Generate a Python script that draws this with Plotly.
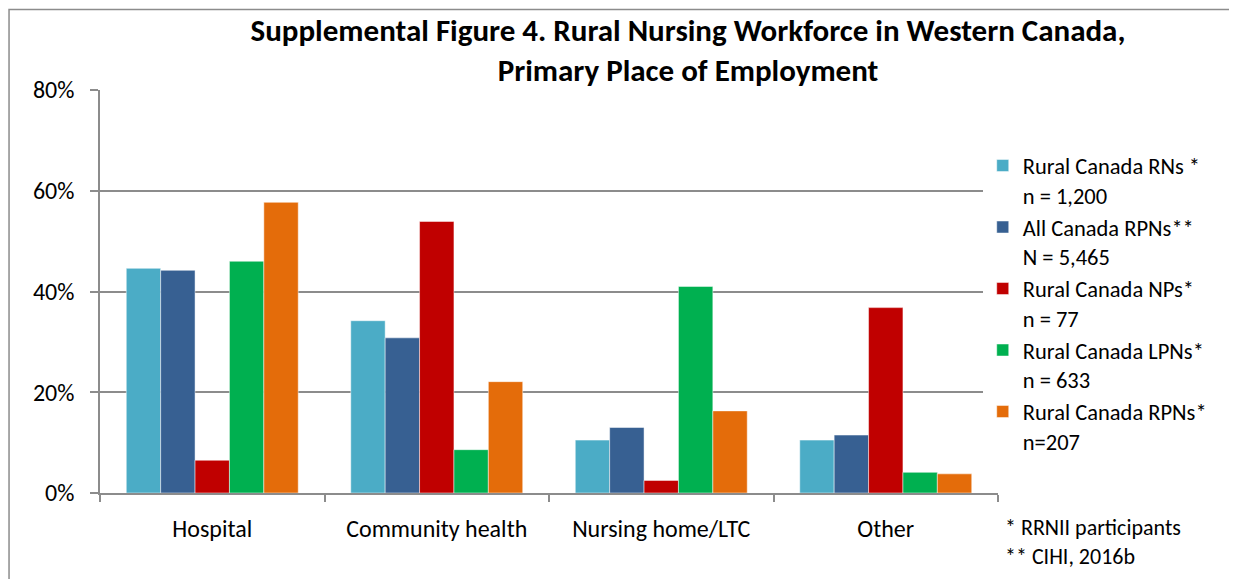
import plotly.graph_objects as go

categories = ["Hospital", "Community health", "Nursing home/LTC", "Other"]

series_names = [
    "Rural Canada RNs *<br>n = 1,200",
    "All Canada RPNs**<br>N = 5,465",
    "Rural Canada NPs*<br>n = 77",
    "Rural Canada LPNs*<br>n = 633",
    "Rural Canada RPNs*<br>n=207",
]
rural_rns = [44.6, 34.2, 10.5, 10.5]
all_rpns = [44.2, 30.8, 13.0, 11.5]
rural_nps = [6.5, 53.9, 2.5, 36.8]
rural_lpns = [46.0, 8.6, 41.0, 4.1]
rural_rpns = [57.7, 22.1, 16.3, 3.8]

y_ticks = [0, 20, 40, 60, 80]
y_labels = ["0%", "20%", "40%", "60%", "80%"]

colors = ["#4BACC6", "#376092", "#C00000", "#00B050", "#E46C0A"]
font_family = "Carlito, Calibri, Lato, sans-serif"
grey = "#8C8C8C"

fig = go.Figure()
for name, vals, col in zip(series_names,
                           [rural_rns, all_rpns, rural_nps, rural_lpns, rural_rpns],
                           colors):
    fig.add_trace(go.Bar(
        x=categories, y=vals, name=name,
        marker=dict(color=col, line=dict(color="rgba(255,255,255,0.6)", width=0.8)),
    ))

# the page body adds an 8px margin, so the figure is sized 8px smaller
fig.update_layout(
    width=1229, height=571,
    margin=dict(l=92, r=239, t=82, b=86),
    paper_bgcolor="white", plot_bgcolor="white",
    barmode="group", bargap=0.234, bargroupgap=0,
    font=dict(family=font_family, size=24, color="#000000"),
    title=dict(
        text="<b>Supplemental Figure 4. Rural Nursing Workforce in Western Canada,<br>Primary Place of Employment</b>",
        xref="container", x=0.5533, xanchor="center",
        yref="container", y=0.943, yanchor="top",
        font=dict(family=font_family, size=31, color="#000000"),
    ),
    legend=dict(
        x=0.983, xanchor="left", y=0.865, yanchor="top",
        valign="top", font=dict(size=22.5),
        itemwidth=30, tracegroupgap=0,
    ),
    yaxis=dict(
        range=[0, 80], tickvals=y_ticks, ticktext=y_labels,
        showgrid=True, gridcolor=grey, gridwidth=1.5,
        showline=True, linecolor=grey, linewidth=1.5,
        ticks="outside", ticklen=8, tickcolor=grey, tickwidth=1.5,
        ticklabelstandoff=11,
        zeroline=False,
    ),
    xaxis=dict(
        showline=True, linecolor=grey, linewidth=1.5,
        ticks="outside", tickson="boundaries", ticklen=7, tickcolor=grey, tickwidth=1.5,
        ticklabelstandoff=13,
    ),
    annotations=[dict(
        text="* RRNII participants<br>** CIHI, 2016b",
        xref="paper", yref="paper", x=1.0056, y=-0.047,
        xanchor="left", yanchor="top", align="left", showarrow=False,
        font=dict(size=22),
    )],
    shapes=[dict(
        type="rect", xref="paper", yref="paper",
        x0=-0.1013, x1=1.4, y0=-0.4, y1=1.1995,
        line=dict(color=grey, width=1.5),
    )],
)

fig.write_html("out.html")
